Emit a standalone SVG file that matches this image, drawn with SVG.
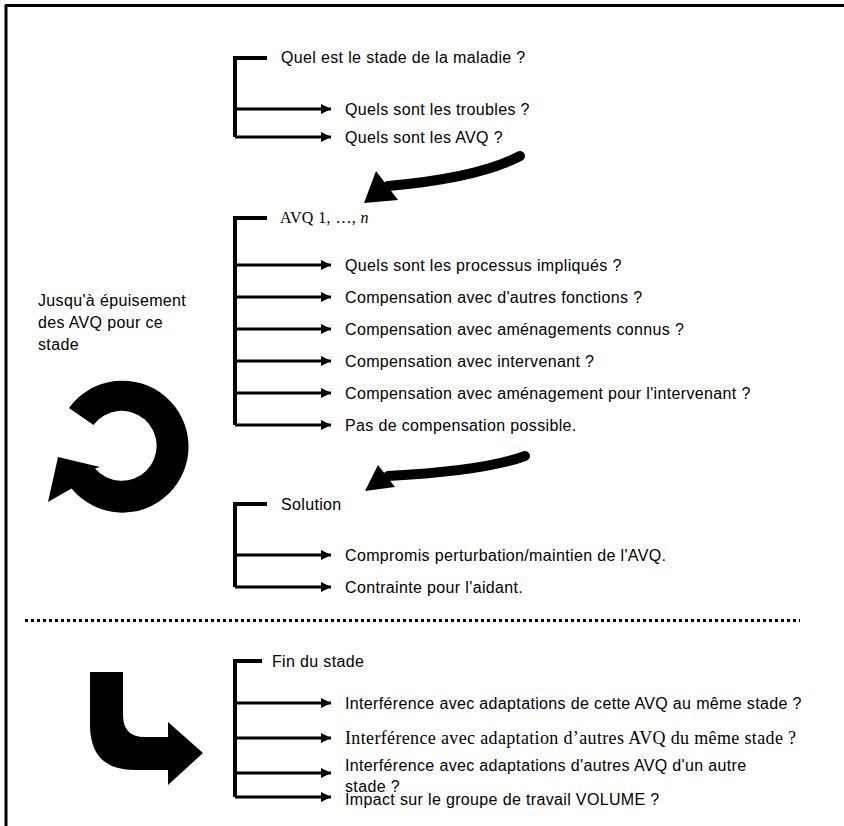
<svg xmlns="http://www.w3.org/2000/svg" width="844" height="826" viewBox="0 0 844 826">
<defs>
<marker id="ah" viewBox="0 0 10 10" refX="10" refY="5" markerWidth="10" markerHeight="10" markerUnits="userSpaceOnUse" orient="auto"><path d="M0 0 L10 5 L0 10 Z" fill="#000"/></marker>
</defs>
<style>
.t{font-family:"Liberation Sans",Arial,sans-serif;font-size:16px;letter-spacing:0.35px;fill:#000}
.s{font-family:"Liberation Serif","Times New Roman",serif;font-size:16px;fill:#000}
.s2{font-family:"Liberation Serif","Times New Roman",serif;font-size:18px;letter-spacing:0.35px;fill:#000}
.br{fill:none;stroke:#000;stroke-width:4}
.ar{fill:none;stroke:#000;stroke-width:3;marker-end:url(#ah)}
.cv{fill:none;stroke:#000;stroke-width:10;stroke-linecap:round}
</style>
<rect width="844" height="826" fill="#fff"/>
<path d="M5 5.5 H844 M6 5 V826" stroke="#000" stroke-width="3" fill="none"/>

<g id="connectors">
  <path class="br" d="M267 58 H235 V137"/>
  <path class="ar" d="M235 109 H331"/>
  <path class="ar" d="M235 137 H331"/>
  <path class="br" d="M267 218 H235 V425"/>
  <path class="ar" d="M235 265 H331"/>
  <path class="ar" d="M235 297 H331"/>
  <path class="ar" d="M235 329 H331"/>
  <path class="ar" d="M235 361 H331"/>
  <path class="ar" d="M235 393 H331"/>
  <path class="ar" d="M235 425 H331"/>
  <path class="br" d="M267 504 H235 V587"/>
  <path class="ar" d="M235 555 H331"/>
  <path class="ar" d="M235 587 H331"/>
  <path class="br" d="M262 661 H235 V797"/>
  <path class="ar" d="M235 703 H331"/>
  <path class="ar" d="M235 738 H331"/>
  <path class="ar" d="M235 773 H331"/>
  <path class="ar" d="M235 797 H331"/>
  <g id="curved1">
    <path class="cv" d="M520 156 Q478 178 388 186"/>
    <path d="M364 203 L376 171 L398 200 Z" fill="#000"/>
  </g>
  <g id="curved2">
    <path class="cv" d="M525 456 Q484 471 388 476"/>
    <path d="M365 491 L378 465 L395 487 Z" fill="#000"/>
  </g>
</g>

<g id="q1"><text class="t" x="281" y="63">Quel est le stade de la maladie ?</text></g>
<g id="q1a"><text class="t" x="345" y="115">Quels sont les troubles ?</text></g>
<g id="q1b"><text class="t" x="345" y="143">Quels sont les AVQ ?</text></g>

<g id="avq"><text class="s" x="280" y="223" letter-spacing="0.4">AVQ 1, …, <tspan font-style="italic">n</tspan></text></g>
<g id="a1"><text class="t" x="345" y="271">Quels sont les processus impliqués ?</text></g>
<g id="a2"><text class="t" x="345" y="303">Compensation avec d'autres fonctions ?</text></g>
<g id="a3"><text class="t" x="345" y="335">Compensation avec aménagements connus ?</text></g>
<g id="a4"><text class="t" x="345" y="367">Compensation avec intervenant ?</text></g>
<g id="a5"><text class="t" x="345" y="399">Compensation avec aménagement pour l'intervenant ?</text></g>
<g id="a6"><text class="t" x="345" y="431">Pas de compensation possible.</text></g>

<g id="sol"><text class="t" x="281" y="510">Solution</text></g>
<g id="s1"><text class="t" x="345" y="561">Compromis perturbation/maintien de l'AVQ.</text></g>
<g id="s2"><text class="t" x="345" y="593">Contrainte pour l'aidant.</text></g>

<g id="loop">
  <text class="t" x="38" y="306">Jusqu'à épuisement</text>
  <text class="t" x="38" y="328">des AVQ pour ce</text>
  <text class="t" x="38" y="350">stade</text>
  <path d="M69 408 A66 66 0 1 1 71.5 488.5 L48 502 L58 457 L100 467 L95 468.5 A35 35 0 1 0 93.5 425 Z" fill="#000"/>
</g>

<line x1="25" y1="620.5" x2="800" y2="620.5" stroke="#000" stroke-width="3" stroke-dasharray="3 3"/>

<g id="bend">
  <path d="M90 672 H123 V715 Q123 737 145 737 H168 V722 L203 753 L168 785 V770 H135 Q90 770 90 725 Z" fill="#000"/>
</g>

<g id="fin"><text class="t" x="272" y="667">Fin du stade</text></g>
<g id="f1"><text class="t" x="345" y="709">Interférence avec adaptations de cette AVQ au même stade ?</text></g>
<g id="f2"><text class="s2" x="345" y="744">Interférence avec adaptation d’autres AVQ du même stade ?</text></g>
<g id="f3"><text class="t" x="345" y="771">Interférence avec adaptations d'autres AVQ d'un autre</text><text class="t" x="345" y="792">stade ?</text></g>
<g id="f4"><text class="t" x="345" y="805">Impact sur le groupe de travail VOLUME ?</text></g>
</svg>
